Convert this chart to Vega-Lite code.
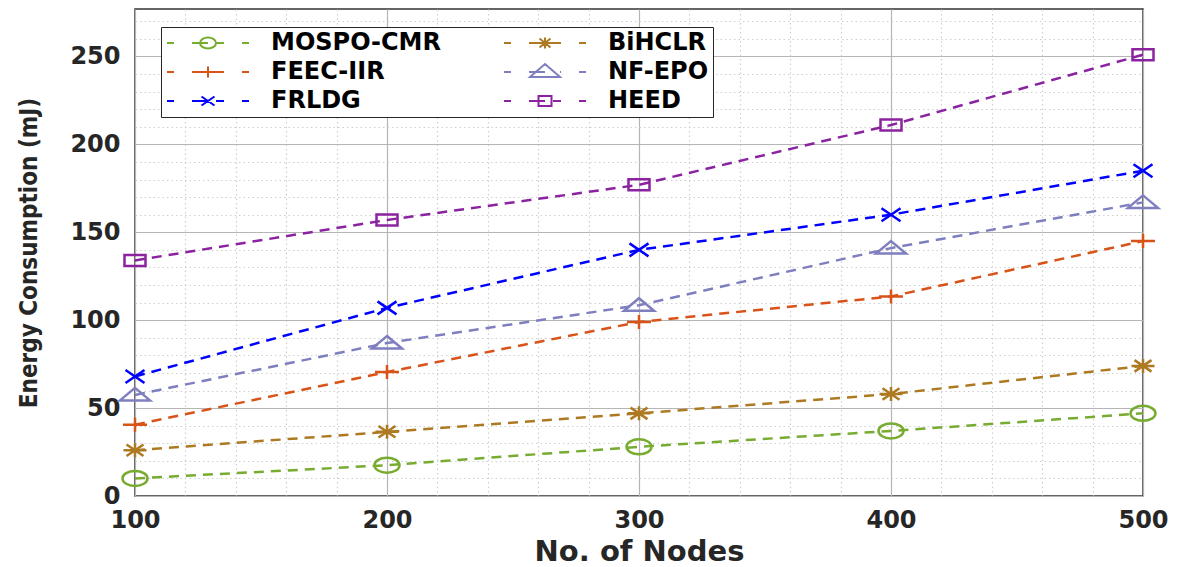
{
  "$schema": "https://vega.github.io/schema/vega-lite/v6.json",
  "width": 1008,
  "height": 487,
  "autosize": {"type": "none"},
  "padding": {"left": 135, "top": 9, "right": 42, "bottom": 71},
  "background": "white",
  "config": {
    "view": {"stroke": "#333333", "strokeWidth": 1.5},
    "font": "DejaVu Sans",
    "legend": {
      "title": null,
      "orient": "none", "legendX": 26, "legendY": 18,
      "columns": 2,
      "fillColor": "white", "strokeColor": "#262626",
      "padding": 4, "rowPadding": 5, "columnPadding": 59,
      "symbolSize": 400, "symbolStrokeWidth": 2, "symbolFillColor": "transparent", "symbolOpacity": 1,
      "labelFont": "DejaVu Sans", "labelFontSize": 24, "labelFontWeight": "bold", "labelColor": "black",
      "labelOffset": 82, "labelLimit": 500
    }
  },
  "data": {
    "values": [
      {"nodes": 100, "series": "MOSPO-CMR", "energy": 10},
      {"nodes": 200, "series": "MOSPO-CMR", "energy": 17.5},
      {"nodes": 300, "series": "MOSPO-CMR", "energy": 28},
      {"nodes": 400, "series": "MOSPO-CMR", "energy": 37},
      {"nodes": 500, "series": "MOSPO-CMR", "energy": 47},
      {"nodes": 100, "series": "FEEC-IIR", "energy": 40.5},
      {"nodes": 200, "series": "FEEC-IIR", "energy": 70.5},
      {"nodes": 300, "series": "FEEC-IIR", "energy": 99},
      {"nodes": 400, "series": "FEEC-IIR", "energy": 113.5},
      {"nodes": 500, "series": "FEEC-IIR", "energy": 145},
      {"nodes": 100, "series": "FRLDG", "energy": 68},
      {"nodes": 200, "series": "FRLDG", "energy": 107},
      {"nodes": 300, "series": "FRLDG", "energy": 140},
      {"nodes": 400, "series": "FRLDG", "energy": 160},
      {"nodes": 500, "series": "FRLDG", "energy": 185},
      {"nodes": 100, "series": "BiHCLR", "energy": 26},
      {"nodes": 200, "series": "BiHCLR", "energy": 36.5},
      {"nodes": 300, "series": "BiHCLR", "energy": 47},
      {"nodes": 400, "series": "BiHCLR", "energy": 58},
      {"nodes": 500, "series": "BiHCLR", "energy": 74},
      {"nodes": 100, "series": "NF-EPO", "energy": 57.5},
      {"nodes": 200, "series": "NF-EPO", "energy": 87},
      {"nodes": 300, "series": "NF-EPO", "energy": 108.5},
      {"nodes": 400, "series": "NF-EPO", "energy": 141},
      {"nodes": 500, "series": "NF-EPO", "energy": 167},
      {"nodes": 100, "series": "HEED", "energy": 134},
      {"nodes": 200, "series": "HEED", "energy": 157},
      {"nodes": 300, "series": "HEED", "energy": 177},
      {"nodes": 400, "series": "HEED", "energy": 211},
      {"nodes": 500, "series": "HEED", "energy": 251}
    ]
  },
  "encoding": {
    "x": {
      "field": "nodes", "type": "quantitative",
      "scale": {"domain": [100, 500], "nice": false, "zero": false},
      "axis": {
        "title": "No. of Nodes",
        "titleFont": "DejaVu Sans", "titleFontSize": 29, "titleFontWeight": "bold", "titleColor": "#262626",
        "titlePadding": 5,
        "labelFont": "DejaVu Sans", "labelFontSize": 24, "labelFontWeight": "bold", "labelColor": "#262626",
        "labelPadding": 12, "labelFlush": false, "labelOverlap": false,
        "ticks": false, "domain": false,
        "values": [100,120,140,160,180,200,220,240,260,280,300,320,340,360,380,400,420,440,460,480,500],
        "labelExpr": "datum.value % 100 === 0 ? datum.label : ''",
        "gridDash": {"condition": {"test": "datum.value % 100 === 0", "value": []}, "value": [1.5, 3]},
        "gridColor": {"condition": {"test": "datum.value % 100 === 0", "value": "#b5b5b5"}, "value": "#cfcfcf"},
        "gridWidth": 1.2
      }
    },
    "y": {
      "field": "energy", "type": "quantitative",
      "scale": {"domain": [0, 277], "nice": false},
      "axis": {
        "title": "Energy Consumption (mJ)",
        "titleFont": "DejaVu Sans Condensed", "titleFontSize": 24, "titleFontWeight": "bold", "titleColor": "#262626",
        "titlePadding": 28,
        "labelFont": "DejaVu Sans", "labelFontSize": 24, "labelFontWeight": "bold", "labelColor": "#262626",
        "labelPadding": 15, "labelOverlap": false,
        "ticks": false, "domain": false,
        "values": [0,10,20,30,40,50,60,70,80,90,100,110,120,130,140,150,160,170,180,190,200,210,220,230,240,250,260,270],
        "labelExpr": "datum.value % 50 === 0 ? datum.label : ''",
        "gridDash": {"condition": {"test": "datum.value % 50 === 0", "value": []}, "value": [1.5, 3]},
        "gridColor": {"condition": {"test": "datum.value % 50 === 0", "value": "#b5b5b5"}, "value": "#cfcfcf"},
        "gridWidth": 1.2
      }
    }
  },
  "layer": [
    {
      "mark": {"type": "line", "strokeDash": [10, 7], "strokeWidth": 2.5},
      "encoding": {
        "color": {
          "field": "series", "type": "nominal",
          "scale": {
            "domain": ["MOSPO-CMR", "FEEC-IIR", "FRLDG", "BiHCLR", "NF-EPO", "HEED"],
            "range": ["#77AC30", "#D95319", "#0000FF", "#AD7A22", "#7F7FC0", "#8B23A0"]
          },
          "legend": null
        },
        "detail": {"field": "series"}
      }
    },
    {
      "mark": {"type": "point", "filled": false, "strokeWidth": 2.5, "size": 100, "opacity": 1},
      "encoding": {
        "color": {
          "field": "series", "type": "nominal",
          "scale": {
            "domain": ["MOSPO-CMR", "FEEC-IIR", "FRLDG", "BiHCLR", "NF-EPO", "HEED"],
            "range": ["#77AC30", "#D95319", "#0000FF", "#AD7A22", "#7F7FC0", "#8B23A0"]
          },
          "legend": null
        },
        "shape": {
          "field": "series", "type": "nominal",
          "scale": {
            "domain": ["HEED", "NF-EPO", "BiHCLR", "FRLDG", "FEEC-IIR", "MOSPO-CMR"],
            "range": [
              "M-2.1,-1.1H2.1V1.1H-2.1Z",
              "M0,-1.4L3,1.1L-3,1.1Z",
              "M-2.3,0H2.3M0,-1.4V1.4M-1.7,-1.15L1.7,1.15M-1.7,1.15L1.7,-1.15",
              "M-1.9,-1.3L1.9,1.3M-1.9,1.3L1.9,-1.3",
              "M-2.4,0H2.4M0,-1.4V1.4",
              "M-2.5,0A2.5,1.5 0 1,0 2.5,0A2.5,1.5 0 1,0 -2.5,0Z"
            ]
          },
          "legend": null
        }
      }
    },
    {
      "mark": {"type": "point", "filled": false, "strokeWidth": 2, "size": 100, "opacity": 0},
      "encoding": {
        "color": {
          "field": "series", "type": "nominal",
          "scale": {
            "domain": ["MOSPO-CMR", "FEEC-IIR", "FRLDG", "BiHCLR", "NF-EPO", "HEED"],
            "range": ["#77AC30", "#D95319", "#0000FF", "#AD7A22", "#7F7FC0", "#8B23A0"]
          }
        },
        "shape": {
          "field": "series", "type": "nominal",
          "scale": {
            "domain": ["MOSPO-CMR", "FEEC-IIR", "FRLDG", "BiHCLR", "NF-EPO", "HEED"],
            "range": [
              "M-1,0H-0.3M1.5,0H3.1M3.9,0H4.7M6.5,0H7.2M2.3,0A0.8,0.55 0 1,0 3.9,0A0.8,0.55 0 1,0 2.3,0Z",
              "M-1,0H-0.3M1.5,0H3.1M3.9,0H4.7M6.5,0H7.2M2.2,0H4.0M3.1,-0.55V0.55",
              "M-1,0H-0.3M1.5,0H3.1M3.9,0H4.7M6.5,0H7.2M2.45,-0.45L3.75,0.45M2.45,0.45L3.75,-0.45",
              "M-1,0H-0.3M1.5,0H3.1M3.9,0H4.7M6.5,0H7.2M2.3,0H3.9M3.1,-0.55V0.55M2.55,-0.45L3.65,0.45M2.55,0.45L3.65,-0.45",
              "M-1,0H-0.3M1.5,0H3.1M4.6,0H4.7M6.5,0H7.2M3.1,-0.8L4.6,0.5L1.6,0.5Z",
              "M-1,0H-0.3M1.5,0H3.1M3.9,0H4.7M6.5,0H7.2M2.45,-0.5H3.75V0.5H2.45Z"
            ]
          }
        }
      }
    }
  ],
  "resolve": {"scale": {"shape": "independent", "color": "independent"}}
}
